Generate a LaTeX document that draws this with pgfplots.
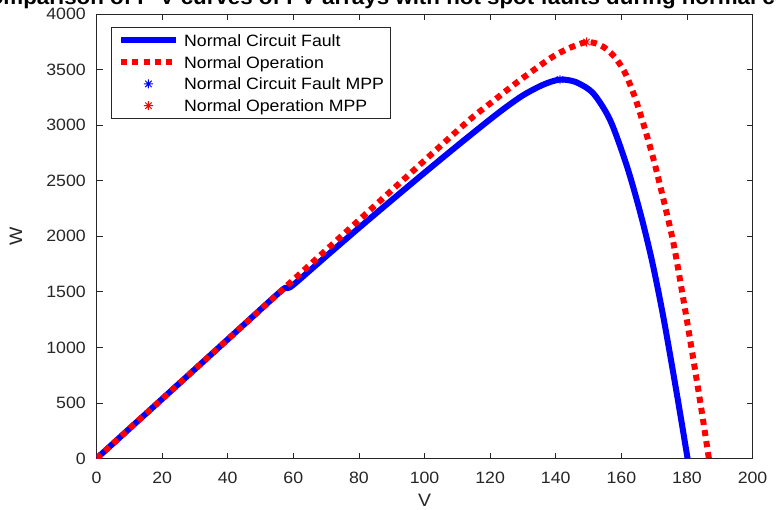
\documentclass[border=0pt]{standalone}
\usepackage{fontspec}
\setmainfont{Liberation Sans}[FakeStretch=1.08]
\usepackage{pgfplots}
\pgfplotsset{compat=1.18}
\definecolor{axgray}{RGB}{38,38,38}

% MATLAB-like asterisk: 8 spokes
\pgfdeclareplotmark{mstar}{%
  \pgfpathmoveto{\pgfqpoint{-\pgfplotmarksize}{0pt}}%
  \pgfpathlineto{\pgfqpoint{\pgfplotmarksize}{0pt}}%
  \pgfpathmoveto{\pgfqpoint{0pt}{-\pgfplotmarksize}}%
  \pgfpathlineto{\pgfqpoint{0pt}{\pgfplotmarksize}}%
  \pgfpathmoveto{\pgfqpoint{-0.707\pgfplotmarksize}{-0.707\pgfplotmarksize}}%
  \pgfpathlineto{\pgfqpoint{0.707\pgfplotmarksize}{0.707\pgfplotmarksize}}%
  \pgfpathmoveto{\pgfqpoint{-0.707\pgfplotmarksize}{0.707\pgfplotmarksize}}%
  \pgfpathlineto{\pgfqpoint{0.707\pgfplotmarksize}{-0.707\pgfplotmarksize}}%
  \pgfusepathqstroke}

\pgfplotsset{
  linelegend/.style={legend image code/.code={\draw[##1] (0pt,0pt) -- (41pt,0pt);}},
  marklegend/.style={legend image code/.code={\draw[##1] plot coordinates {(20.5pt,0pt)};}},
}

\begin{document}
\begin{tikzpicture}
\path[use as bounding box, clip] (-72.4pt,-37.9pt) rectangle (509.6pt,343.9pt);
\begin{axis}[
  scale only axis, width=492pt, height=333.4pt,
  xmin=0, xmax=200, ymin=0, ymax=4000,
  xtick={0,20,...,200}, ytick={0,500,...,4000},
  tick align=inside, major tick length=4.5pt,
  tick style={axgray, line width=0.6pt},
  axis line style={axgray, line width=0.6pt},
  ticklabel style={font=\fontsize{12.3}{14}\selectfont, text=axgray},
  /pgf/number format/assume math mode=true,
  /pgf/number format/1000 sep={},
  xticklabel style={anchor=base, yshift=-19.1pt, inner sep=0pt},
  yticklabel style={anchor=east, xshift=-7.9pt, inner sep=0pt},
  xlabel={V}, ylabel={W},
  label style={font=\fontsize{13.5}{16}\selectfont, text=axgray, inner sep=0pt},
  xlabel style={at={(axis description cs:0.5,-0.108)}, anchor=base},
  ylabel style={at={(axis description cs:-0.1135,0.5)}, anchor=base},
  title={Comparison of P-V curves of PV arrays with hot spot faults during normal conditions},
  title style={font=\fontsize{15.5}{18}\selectfont\bfseries, at={(axis description cs:0.5,1.003)}, anchor=base, inner sep=0pt},
  legend style={at={(axis description cs:0,1)}, xshift=10.9pt, yshift=-9.75pt, anchor=north west,
    draw=axgray, line width=0.6pt, inner xsep=5pt, inner ysep=5.3pt, row sep=7.3pt, column sep=4pt,
    font=\fontsize{12.3}{14}\selectfont,
    nodes={inner sep=0pt, text height=9pt, text depth=0pt}},
  legend cell align=left,
]
\addplot[blue, line width=4.5pt, line join=round, smooth, linelegend] coordinates {
(0,0) (20,536) (40,1072) (56,1501) (58,1533) (60,1563) (70,1820) (80,2075)
(90,2325) (100,2572) (110,2815) (120,3052) (125,3165) (130,3268) (135,3348)
(138.5,3390) (141.3,3410) (144,3404) (147,3376) (151.5,3284) (156.6,3044)
(161.6,2640) (165.7,2220) (169.3,1785) (172.8,1275) (176.9,586) (180.2,0)
};
\addplot[red, line width=4.5pt, dash pattern=on 4.6pt off 3.8pt, smooth, linelegend] coordinates {
(0,0) (20,536) (40,1072) (60,1608) (80,2145) (100,2682) (110,2950)
(115,3080) (120,3195) (125,3312) (130,3425) (135,3532) (138,3595)
(141,3648) (144,3692) (147,3727) (149.4,3748) (152,3738) (155,3695)
(158,3612) (161,3478) (164,3262) (167,2985) (170,2672) (173,2312)
(176,1922) (179,1417) (182,885) (184.5,425) (186.7,0)
};
\addplot[only marks, blue, mark=mstar, mark size=3.4pt, line width=0.7pt, marklegend] coordinates {(141.3,3410)};
\addplot[only marks, red, mark=mstar, mark size=3.4pt, line width=0.7pt, marklegend] coordinates {(149.4,3748)};
\legend{Normal Circuit Fault, Normal Operation, Normal Circuit Fault MPP, Normal Operation MPP}
\end{axis}
\end{tikzpicture}
\end{document}
